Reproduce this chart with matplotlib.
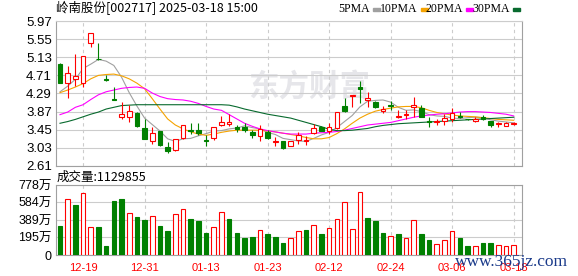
import matplotlib
matplotlib.use("Agg")
import matplotlib.pyplot as plt
from matplotlib.patches import Rectangle

TITLE = "岭南股份[002717] 2025-03-18 15:00"
VOLUME_TEXT = "成交量:1129855"

DATES = ["12-19", "12-31", "01-13", "01-23", "02-12", "02-24", "03-06", "03-18"]
DATE_POS = [3, 11, 19, 27, 35, 43, 51, 59]

PRICE_TICKS = [2.61, 3.03, 3.45, 3.87, 4.29, 4.71, 5.13, 5.55, 5.97]
VOL_TICKS = [0, 195, 389, 584, 778]
VOL_LABELS = ["0", "195万", "389万", "584万", "778万"]

OPEN = [4.97, 4.53, 4.62, 4.53, 5.45, 5.10, 4.62, 4.16, 3.75, 3.75,
        3.84, 3.49, 3.20, 3.42, 3.04, 2.97, 3.25, 3.45, 3.44, 3.21,
        3.25, 3.57, 3.59, 3.52, 3.52, 3.40, 3.31, 3.39, 3.17, 3.19,
        3.08, 3.21, 3.20, 3.37, 3.52, 3.41, 3.48, 4.00, 4.24, 4.43,
        4.14, 4.10, 3.89, 4.02, 3.74, 3.80, 3.98, 3.95, 3.65, 3.63,
        3.66, 3.69, 3.78, 3.70, 3.66, 3.74, 3.66, 3.59, 3.53, 3.59]
HIGH = [5.00, 4.93, 5.20, 5.15, 5.69, 5.47, 4.72, 4.43, 4.09, 4.02,
        3.85, 3.70, 3.52, 3.43, 3.16, 3.23, 3.56, 3.61, 3.60, 3.33,
        3.52, 3.77, 3.81, 3.55, 3.60, 3.44, 3.56, 3.44, 3.28, 3.20,
        3.19, 3.40, 3.30, 3.58, 3.53, 3.60, 3.87, 4.18, 4.25, 4.59,
        4.33, 4.12, 4.00, 4.12, 3.91, 3.91, 4.20, 4.02, 3.75, 3.71,
        3.81, 3.95, 3.87, 3.71, 3.75, 3.79, 3.66, 3.64, 3.63, 3.63]
LOW = [4.54, 4.18, 4.46, 4.45, 5.37, 5.07, 4.59, 4.14, 3.70, 3.63,
       3.52, 3.23, 3.13, 3.08, 2.91, 2.95, 3.24, 3.35, 3.33, 3.07,
       3.22, 3.53, 3.53, 3.40, 3.39, 3.25, 3.19, 3.24, 3.07, 3.01,
       3.07, 3.13, 3.10, 3.36, 3.41, 3.36, 3.47, 3.87, 3.98, 4.06,
       3.97, 3.96, 3.84, 3.91, 3.73, 3.71, 3.75, 3.75, 3.52, 3.56,
       3.56, 3.63, 3.73, 3.68, 3.63, 3.68, 3.52, 3.52, 3.53, 3.56]
CLOSE = [4.54, 4.76, 4.69, 5.15, 5.69, 5.08, 4.60, 4.15, 3.81, 3.88,
         3.53, 3.23, 3.37, 3.09, 2.96, 3.23, 3.56, 3.43, 3.37, 3.20,
         3.52, 3.63, 3.62, 3.46, 3.45, 3.33, 3.46, 3.25, 3.18, 3.02,
         3.19, 3.33, 3.21, 3.50, 3.42, 3.51, 3.86, 3.88, 4.25, 4.39,
         4.18, 3.97, 3.93, 4.01, 3.78, 3.81, 4.02, 3.75, 3.63, 3.65,
         3.73, 3.83, 3.74, 3.69, 3.70, 3.69, 3.56, 3.60, 3.60, 3.60]

# volume in 万 shares
VOLUME = [322, 619, 556, 685, 315, 307, 100, 600, 622, 463,
          422, 389, 433, 322, 270, 452, 507, 400, 381, 248,
          307, 478, 400, 248, 193, 200, 278, 233, 196, 130,
          185, 267, 278, 333, 233, 296, 396, 585, 285, 704,
          407, 378, 241, 215, 233, 185, 389, 233, 167, 119,
          167, 267, 185, 100, 100, 130, 130, 107, 100, 113]

MA5 = [4.33, 4.46, 4.62, 4.87, 4.97, 5.08, 5.04, 4.94, 4.67, 4.31,
       4.00, 3.72, 3.57, 3.42, 3.24, 3.18, 3.24, 3.25, 3.31, 3.36,
       3.42, 3.43, 3.47, 3.49, 3.54, 3.50, 3.47, 3.39, 3.34, 3.25,
       3.22, 3.19, 3.18, 3.25, 3.33, 3.39, 3.50, 3.64, 3.78, 3.98,
       4.11, 4.13, 4.14, 4.09, 3.97, 3.90, 3.91, 3.87, 3.80, 3.77,
       3.76, 3.72, 3.71, 3.73, 3.74, 3.73, 3.68, 3.65, 3.63, 3.61]
MA10 = [4.31, 4.37, 4.44, 4.52, 4.63, 4.71, 4.73, 4.74, 4.70, 4.63,
        4.53, 4.40, 4.17, 3.93, 3.70, 3.56, 3.47, 3.40, 3.35, 3.32,
        3.35, 3.39, 3.42, 3.44, 3.44, 3.44, 3.44, 3.42, 3.40, 3.37,
        3.34, 3.31, 3.27, 3.24, 3.24, 3.27, 3.36, 3.47, 3.60, 3.72,
        3.81, 3.88, 3.92, 3.95, 3.98, 3.99, 3.99, 3.96, 3.90, 3.85,
        3.82, 3.79, 3.77, 3.76, 3.75, 3.73, 3.71, 3.69, 3.68, 3.67]
MA20 = [3.80, 3.86, 3.97, 4.03, 4.15, 4.26, 4.33, 4.37, 4.41, 4.43,
        4.44, 4.41, 4.30, 4.22, 4.17, 4.15, 4.14, 4.11, 4.06, 3.99,
        3.93, 3.90, 3.80, 3.70, 3.60, 3.53, 3.47, 3.43, 3.40, 3.37,
        3.35, 3.35, 3.35, 3.37, 3.38, 3.39, 3.41, 3.44, 3.48, 3.52,
        3.56, 3.58, 3.60, 3.62, 3.66, 3.70, 3.74, 3.77, 3.79, 3.81,
        3.82, 3.84, 3.86, 3.87, 3.87, 3.86, 3.85, 3.83, 3.81, 3.77]
MA30 = [3.60, 3.64, 3.69, 3.75, 3.81, 3.86, 3.93, 3.97, 4.01, 4.02,
        4.03, 4.03, 4.03, 4.03, 4.03, 4.03, 4.03, 4.03, 4.03, 4.03,
        4.03, 4.03, 4.02, 3.98, 3.93, 3.89, 3.85, 3.81, 3.78, 3.75,
        3.72, 3.67, 3.62, 3.57, 3.52, 3.46, 3.43, 3.43, 3.44, 3.46,
        3.48, 3.52, 3.55, 3.57, 3.59, 3.60, 3.61, 3.62, 3.63, 3.64,
        3.65, 3.66, 3.67, 3.68, 3.69, 3.70, 3.71, 3.72, 3.73, 3.74]

RED = "#ff0000"
GREEN = "#008000"
GRID = "#cccccc"
FRAME = "#a0a0a0"
MA_STYLES = [("5PMA", MA5, "#a0a0a0"), ("10PMA", MA10, "#f5a300"),
             ("20PMA", MA20, "#ff00ff"), ("30PMA", MA30, "#086a2e")]

W, H = 578, 276
XLIM = (-0.52, 60.08)


def style_axes(ax):
    ax.set_xlim(*XLIM)
    ax.set_axisbelow(True)
    ax.set_xticks(DATE_POS)
    ax.xaxis.grid(True, color=GRID, lw=0.8, ls=(0, (3, 3)))
    ax.yaxis.grid(True, color=GRID, lw=0.8)
    ax.tick_params(length=0, pad=3)
    for s in ax.spines.values():
        s.set_color(FRAME)
        s.set_linewidth(0.8)


def plot_price(fig):
    ax = fig.add_axes([56 / W, 1 - 166 / H, 466 / W, 145 / H])
    style_axes(ax)
    ax.spines["top"].set_color(GRID)
    ax.set_ylim(2.61, 5.97)
    ax.set_yticks(PRICE_TICKS)
    ax.set_yticklabels([f"{v:.2f}" for v in PRICE_TICKS],
                       fontfamily="Liberation Sans", fontsize=9.5)
    ax.set_xticklabels([])

    # faint site watermark behind the candles
    ax.text(309 / W, 1 - 87 / H, "东方财富", transform=fig.transFigure, fontsize=22,
            fontweight="bold", family="Noto Sans CJK SC", color="#e6e6ea",
            ha="center", va="center", zorder=0.2)

    x = range(len(CLOSE))
    for name, values, color in MA_STYLES:
        ax.plot(x, values, color=color, lw=0.8, zorder=2)

    for i in x:
        o, h, l, c = OPEN[i], HIGH[i], LOW[i], CLOSE[i]
        up = c >= o
        color = RED if up else GREEN
        ax.vlines(i, l, h, color=color, lw=0.8, zorder=3)
        body = max(abs(c - o), 0.006)
        ax.bar(i, body, bottom=min(o, c), width=0.6,
               facecolor="white" if up else color, edgecolor=color, lw=0.8, zorder=4)
    return ax


def plot_volume(fig):
    ax = fig.add_axes([56 / W, 1 - 255 / H, 466 / W, 70 / H])
    style_axes(ax)
    ax.set_ylim(0, 778)
    ax.set_yticks(VOL_TICKS)
    ax.set_yticklabels(VOL_LABELS, fontfamily=["Liberation Sans", "Noto Sans CJK SC"],
                       fontsize=9)
    ax.set_xticklabels(DATES, color=RED, fontfamily="Liberation Sans", fontsize=8)
    ax.tick_params(axis="x", pad=6)

    for i, v in enumerate(VOLUME):
        up = i > 0 and CLOSE[i] >= CLOSE[i - 1]
        color = RED if up else GREEN
        ax.bar(i, v, width=0.6, facecolor="white" if up else color,
               edgecolor=color, lw=0.8, zorder=3)
    return ax


def draw_legend(fig):
    positions = [338, 380, 425, 472]
    for (name, values, color), px in zip(MA_STYLES, positions):
        t = fig.text(px / W, 1 - 9 / H, name, fontfamily="Liberation Serif",
                     fontsize=8.5, va="center", ha="left")
        fig.canvas.draw()
        bb = t.get_window_extent()
        fig.add_artist(Rectangle(((bb.x1 + 3) / W, 1 - 11 / H), 7 / W, 3 / H,
                                 transform=fig.transFigure, color=color))


if __name__ == '__main__':
    fig = plt.figure(figsize=(W / 100, H / 100), dpi=100)
    plot_price(fig)
    plot_volume(fig)
    fig.text(56 / W, 1 - 8 / H, TITLE, family=["Noto Sans CJK SC"], fontsize=9,
             va="center", ha="left")
    fig.text(57 / W, 1 - 177 / H, VOLUME_TEXT, family=["Noto Sans CJK SC"], fontsize=9,
             va="center", ha="left")
    draw_legend(fig)
    fig.text(455 / W, 1 - 265.5 / H, "www.365jz.com", fontfamily="Liberation Serif",
             fontsize=12.5, color="#1a3a8a", va="baseline", ha="left")
    fig.savefig("out.png", dpi=100)
